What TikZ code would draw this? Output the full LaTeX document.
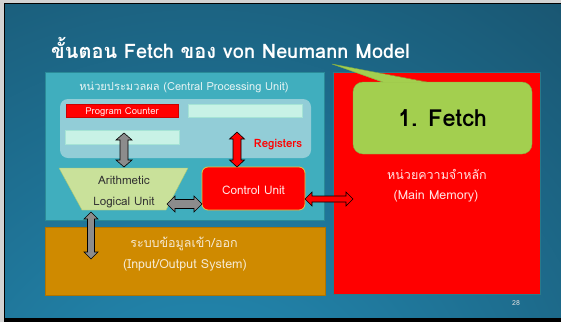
\documentclass[tikz,border=0pt]{standalone}
\usepackage{fontspec}
\setmainfont[Script=Thai]{Loma}
\usetikzlibrary{shapes.geometric,calc}
\definecolor{bgdark}{HTML}{153F55}
\definecolor{bglight}{HTML}{2490BA}
\definecolor{cpufill}{HTML}{40AEBE}
\definecolor{cpuline}{HTML}{2A8A98}
\definecolor{regfill}{HTML}{92CDD7}
\definecolor{mint}{HTML}{C8F2E6}
\definecolor{mintline}{HTML}{A6E4D6}
\definecolor{alufill}{HTML}{C9E19A}
\definecolor{aluline}{HTML}{A9C870}
\definecolor{iofill}{HTML}{CF8A00}
\definecolor{ioline}{HTML}{B07400}
\definecolor{memline}{HTML}{2A7A8A}
\definecolor{fetchfill}{HTML}{A3CF4F}
\definecolor{fetchline}{HTML}{86AE40}
\definecolor{cuborder}{HTML}{E8C840}
\definecolor{cputext}{HTML}{E6F4F4}
\definecolor{memtext}{HTML}{FFE2E2}
\definecolor{iotext}{HTML}{F6EAD2}
\definecolor{arrgray}{HTML}{8C8C8C}
\tikzset{
  box/.style={draw, inner sep=0pt, outer sep=0pt},
  lbl/.style={inner sep=0pt},
  blockarr/.style={draw=black, line width=0.6pt, line join=miter},
}
% vertical double block arrow: fill, x, ytop, ybottom, shaft half, head half, head length
\newcommand{\myvarrow}[7]{%
  \filldraw[blockarr, fill=#1] (#2,#3) -- (#2+#6,#3+#7) -- (#2+#5,#3+#7) -- (#2+#5,#4-#7) -- (#2+#6,#4-#7) -- (#2,#4)
    -- (#2-#6,#4-#7) -- (#2-#5,#4-#7) -- (#2-#5,#3+#7) -- (#2-#6,#3+#7) -- cycle;}
% horizontal double block arrow: fill, y, xleft, xright, shaft half, head half, head length
\newcommand{\myharrow}[7]{%
  \filldraw[blockarr, fill=#1] (#3,#2) -- (#3+#7,#2-#6) -- (#3+#7,#2-#5) -- (#4-#7,#2-#5) -- (#4-#7,#2-#6) -- (#4,#2)
    -- (#4-#7,#2+#6) -- (#4-#7,#2+#5) -- (#3+#7,#2+#5) -- (#3+#7,#2+#6) -- cycle;}
\begin{document}
\begin{tikzpicture}[x=1pt,y=-1pt]
\useasboundingbox (0,0) rectangle (561,322);
\fill[gray!35] (0,0) rectangle (561,322);
\fill[black] (4,3) rectangle (561,322);
\begin{scope}
\clip (5,4) rectangle (561,317);
\fill[bgdark] (5,4) rectangle (561,317);
\shade[inner color=bglight, outer color=bgdark] (200,460) circle (820);
\end{scope}

% title
\node[lbl, anchor=base west, text=white, font=\bfseries\fontsize{20}{22}\selectfont] (title) at (51,58) {ขั้นตอน Fetch ของ von Neumann Model};

% CPU
\node[box, draw=cpuline, fill=cpufill, minimum width=279pt, minimum height=148pt] (cpu) at (184.5,146) {};
\node[lbl, text=cputext, font=\fontsize{11.1}{13}\selectfont] (cputitle) at (184,87.5) {หน่วยประมวลผล (Central Processing Unit)};
\node[box, draw=none, fill=regfill, rounded corners=8pt, minimum width=251pt, minimum height=59pt] (regs) at (185.5,128.5) {};
\node[box, draw=red!80!black, fill=red, minimum width=112pt, minimum height=13pt] (pc) at (122,110.5) {};
\node[lbl, text=white!92!red, font=\fontsize{9.5}{10}\selectfont] (pctext) at (122,112) {Program Counter};
\node[box, draw=mintline, fill=mint, minimum width=114pt, minimum height=13pt] (m1) at (245,110.5) {};
\node[box, draw=mintline, fill=mint, minimum width=114pt, minimum height=14pt] (m2) at (122,137) {};
\node[lbl, text=red, font=\bfseries\fontsize{11.5}{12}\selectfont] (reglbl) at (278,144.5) {Registers};

% ALU
\draw[aluline, fill=alufill] (59,168) -- (188,168) -- (166,210) -- (82,210) -- cycle;
\node[lbl, text=black!80, font=\fontsize{11.6}{13}\selectfont] (alu1) at (124,180) {Arithmetic};
\node[lbl, text=black!80, font=\fontsize{11.6}{13}\selectfont] (alu2) at (124,203) {Logical Unit};

% Control unit
\node[box, draw=cuborder, line width=0.8pt, fill=red, rounded corners=6pt, minimum width=103pt, minimum height=43pt] (cu) at (253.5,188.5) {};
\node[lbl, text=white!92!red, font=\fontsize{11.8}{13}\selectfont] (cutext) at (253.5,190) {Control Unit};

% IO
\node[box, draw=ioline, fill=iofill, minimum width=280pt, minimum height=68pt] (io) at (185,261) {};
\node[lbl, text=iotext, font=\fontsize{12.5}{14}\selectfont] (io1) at (184,243.5) {ระบบข้อมูลเข้า/ออก};
\node[lbl, text=iotext, font=\fontsize{12.5}{14}\selectfont] (io2) at (185,265.5) {(Input/Output System)};

% Main memory
\node[box, draw=memline, line width=0.8pt, fill=red, minimum width=207pt, minimum height=222pt] (mem) at (436.5,183) {};
\node[lbl, text=memtext, font=\fontsize{12.5}{14}\selectfont] (mem1) at (437,174.5) {หน่วยความจำหลัก};
\node[lbl, text=memtext, font=\fontsize{12.5}{14}\selectfont] (mem2) at (436,196.5) {(Main Memory)};

% Fetch callout
\node[box, draw=fetchline, fill=fetchfill, rounded corners=10pt, minimum width=179pt, minimum height=72pt,
  font=\bfseries\fontsize{23.5}{26}\selectfont] (fetch) at (442.5,118) {1. Fetch};
\coordinate (tip) at (332,64);
\fill[fetchfill] (tip) -- (427,82.4) -- (383,82.4) -- cycle;
\draw[fetchline, line width=0.4pt] (383,82) -- (tip) -- (427,82);

% block arrows
\myvarrow{arrgray}{124}{133}{167}{4}{8}{7}
\myvarrow{red}{237}{132}{167}{4}{7.5}{7}
\myharrow{arrgray}{204}{167}{202}{4.5}{8}{8}
\myharrow{red}{199}{305}{353}{3}{7}{7}
\myvarrow{arrgray}{91}{212}{259}{3.5}{7}{7}

% page number
\node[lbl, text=gray!25, font=\fontsize{7}{8}\selectfont] (pg) at (516,303) {28};
\end{tikzpicture}
\end{document}
